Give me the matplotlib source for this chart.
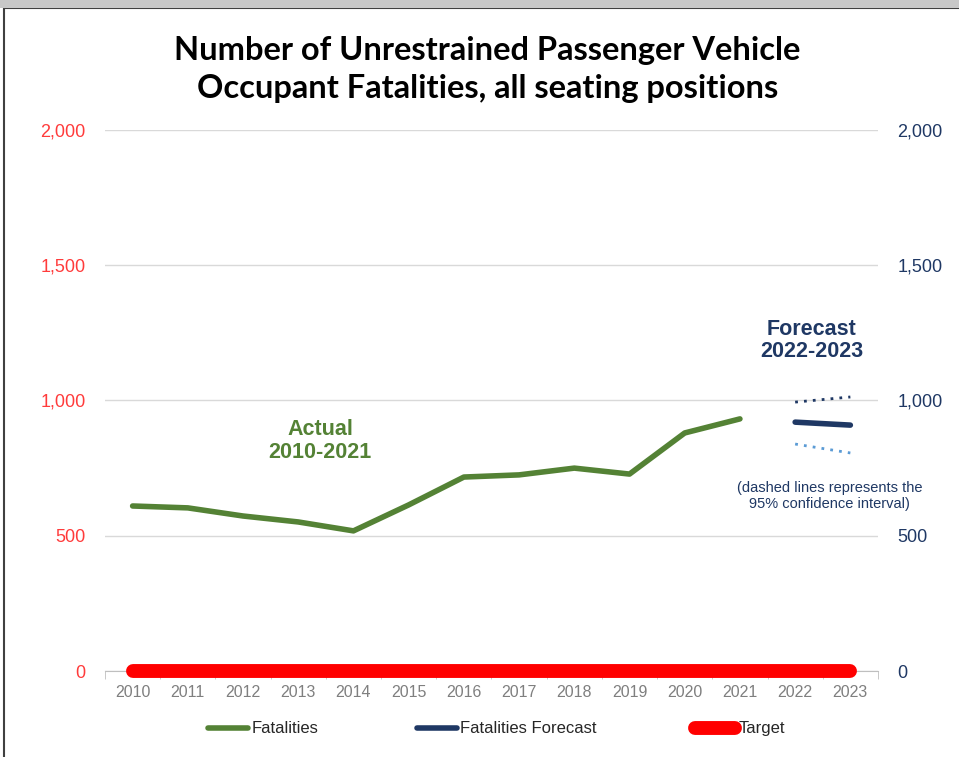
import numpy as np
import matplotlib.pyplot as plt
from matplotlib.ticker import FuncFormatter, FixedLocator
from matplotlib.patches import Rectangle

years = [2010, 2011, 2012, 2013, 2014, 2015, 2016, 2017, 2018, 2019, 2020, 2021, 2022, 2023]
actual_years = years[:12]
fatalities = [610, 603, 573, 551, 518, 614, 717, 725, 750, 728, 880, 932]
forecast_years = [2022, 2023]
forecast = [920, 909]
upper_ci = [994, 1013]
lower_ci = [839, 806]
target = [0] * len(years)

green = '#548235'
navy = '#1F3864'
lightblue = '#5B9BD5'

fig = plt.figure(figsize=(9.59, 7.57), dpi=100)
ax = fig.add_axes([0.1095, 0.1136, 0.806, 0.7147])

x = np.arange(len(years))
xa = x[:12]
xf = x[12:]

ax.plot(xa, fatalities, color=green, lw=4, solid_capstyle='round', zorder=3, label='Fatalities')
ax.plot(xf, forecast, color=navy, lw=4, solid_capstyle='round', zorder=3, label='Fatalities Forecast')
ax.plot(xf, upper_ci, color=navy, lw=2, ls=(0, (1, 2.2)), zorder=3)
ax.plot(xf, lower_ci, color=lightblue, lw=2, ls=(0, (1, 2.2)), zorder=3)
ax.plot(x, target, color='#FF0000', lw=10, solid_capstyle='round', zorder=4, label='Target', clip_on=False)

ax.set_xlim(-0.5, len(years) - 0.5)
ax.set_ylim(0, 2000)
ax.set_yticks([0, 500, 1000, 1500, 2000])
fmt = FuncFormatter(lambda v, p: f'{int(v):,}')
ax.yaxis.set_major_formatter(fmt)
ax.grid(axis='y', color='#D9D9D9', lw=1)
ax.set_axisbelow(True)
for s in ['top', 'right', 'left']:
    ax.spines[s].set_visible(False)
ax.spines['bottom'].set_color('#BFBFBF')
ax.set_xticks(x)
ax.set_xticklabels([str(y) for y in years], color='#7F7F7F', fontsize=11.5, family='Liberation Sans')
ax.xaxis.set_minor_locator(FixedLocator(np.arange(-0.5, len(years), 1)))
ax.tick_params(axis='x', which='major', length=0, pad=10)
ax.tick_params(axis='x', which='minor', length=6, color='#BFBFBF')
ax.tick_params(axis='y', length=0, pad=14, labelsize=13, labelcolor='#FF3B3B')
for t in ax.get_yticklabels():
    t.set_family('Liberation Sans')

ax2 = ax.twinx()
ax2.set_ylim(0, 2000)
ax2.set_yticks([0, 500, 1000, 1500, 2000])
ax2.yaxis.set_major_formatter(fmt)
for s in ax2.spines.values():
    s.set_visible(False)
ax2.tick_params(axis='y', length=0, pad=14, labelsize=13, labelcolor=navy)
for t in ax2.get_yticklabels():
    t.set_family('Liberation Sans')

fig.text(0.508, 0.908, 'Number of Unrestrained Passenger Vehicle\nOccupant Fatalities, all seating positions',
         ha='center', va='center', fontsize=23.5, fontweight='bold', family='Lato', linespacing=1.35)

ax.text(3.4, 850, 'Actual\n2010-2021', ha='center', va='center', color=green,
        fontsize=15.5, fontweight='bold', family='Liberation Sans', linespacing=1.1)
ax.text(12.3, 1222, 'Forecast\n2022-2023', ha='center', va='center', color=navy,
        fontsize=15.5, fontweight='bold', family='Liberation Sans', linespacing=1.1)
ax.text(12.62, 647, '(dashed lines represents the\n95% confidence interval)', ha='center', va='center',
        color=navy, fontsize=10.5, family='Liberation Sans', linespacing=1.2, clip_on=False)

leg = fig.legend(loc='center', bbox_to_anchor=(0.518, 0.037), ncol=3, frameon=False,
                 handlelength=2.4, columnspacing=5.9, handletextpad=0.2,
                 prop={'family': 'Liberation Sans', 'size': 12})
for t in leg.get_texts():
    t.set_color('#262626')

# outer frame of the chart picture
fig.patches.append(Rectangle((0.004, -0.01), 1.2, 1.0, transform=fig.transFigure,
                             fill=False, edgecolor='#404040', lw=1.5))
fig.patches.append(Rectangle((0, 0.99), 1, 0.01, transform=fig.transFigure,
                             color='#C8C8C8', lw=0))

fig.savefig('out.png', dpi=100)
